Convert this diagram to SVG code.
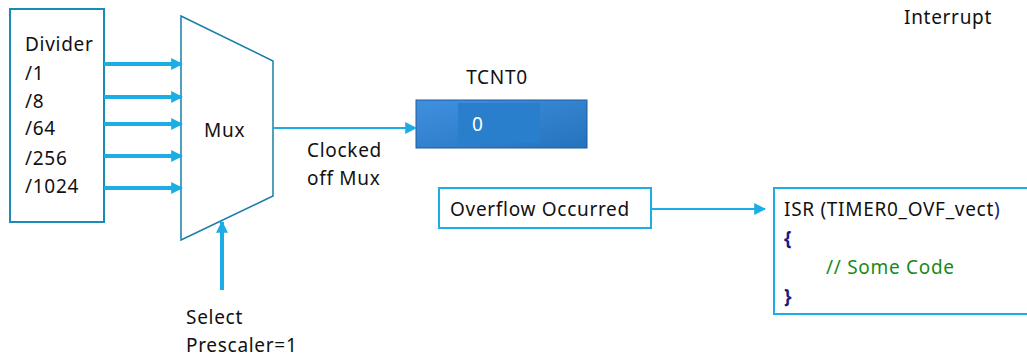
<svg xmlns="http://www.w3.org/2000/svg" width="1027" height="356" viewBox="0 0 1027 356">
  <style>
    .t { font-family: "Noto Sans", "Liberation Sans", sans-serif; font-size: 19px; letter-spacing: 0.7px; fill: #111; }
    .box { fill: #fff; stroke: #1CADE4; stroke-width: 2; }
    .thin { stroke: #1CADE4; stroke-width: 2; fill: none; }
    .thick { stroke: #1CADE4; stroke-width: 4; fill: none; }
  </style>
  <defs>
    <marker id="ah" viewBox="0 0 10 10" refX="9" refY="5" markerWidth="3" markerHeight="3" orient="auto" markerUnits="strokeWidth">
      <path d="M0,0 L10,5 L0,10 z" fill="#1CADE4"/>
    </marker>
    <marker id="ahs" viewBox="0 0 10 10" refX="9" refY="5" markerWidth="6" markerHeight="6" orient="auto" markerUnits="strokeWidth">
      <path d="M0,0 L10,5 L0,10 z" fill="#1CADE4"/>
    </marker>
    <linearGradient id="reg" x1="0" y1="0" x2="1" y2="1">
      <stop offset="0" stop-color="#3F90E0"/>
      <stop offset="1" stop-color="#2673BC"/>
    </linearGradient>
  </defs>

  <rect width="1027" height="356" fill="#fff"/>

  <g id="divider">
    <rect x="10" y="9" width="94" height="213" fill="#fff" stroke="#1A8AB8" stroke-width="2"/>
    <text class="t" x="25" y="51">Divider</text>
    <text class="t" x="25" y="80">/1</text>
    <text class="t" x="25" y="108">/8</text>
    <text class="t" x="25" y="135">/64</text>
    <text class="t" x="25" y="165">/256</text>
    <text class="t" x="25" y="193">/1024</text>
  </g>

  <g id="mux">
    <polygon points="181,16 273,61 273,196 181,240" fill="#fff" stroke="#1A7FA8" stroke-width="1.5"/>
    <text class="t" x="204" y="137">Mux</text>
  </g>

  <g id="tcnt0">
    <text class="t" x="497" y="84" text-anchor="middle">TCNT0</text>
    <rect x="416" y="100" width="171" height="48" fill="url(#reg)" stroke="#1E5C9A" stroke-width="1"/>
    <rect x="458" y="103" width="82" height="40" fill="#2A7FCC"/>
    <text x="472" y="131" font-family="Noto Sans, Liberation Sans, sans-serif" font-size="19" fill="#fff">0</text>
  </g>

  <g id="overflow">
    <rect class="box" x="439" y="188" width="212" height="40"/>
    <text class="t" x="450" y="216">Overflow Occurred</text>
  </g>

  <g id="isr">
    <rect class="box" x="774" y="188" width="260" height="126"/>
    <text class="t" x="784" y="216">ISR (TIMER0_OVF_vect<tspan fill="#1A1A80">)</tspan></text>
    <text class="t" x="784" y="245" font-weight="bold" style="fill:#1A1A80">{</text>
    <text class="t" x="826" y="274" style="fill:#1A8A1A">// Some Code</text>
    <text class="t" x="784" y="303" font-weight="bold" style="fill:#1A1A80">}</text>
  </g>

  <g id="labels">
    <text class="t" x="307" y="157">Clocked</text>
    <text class="t" x="307" y="185">off Mux</text>
    <text class="t" x="186" y="324">Select</text>
    <text class="t" x="186" y="352">Prescaler=1</text>
    <text class="t" x="904" y="24">Interrupt</text>
  </g>

  <g id="connectors">
    <line class="thick" x1="104" y1="64" x2="182" y2="64" marker-end="url(#ah)"/>
    <line class="thick" x1="104" y1="97" x2="182" y2="97" marker-end="url(#ah)"/>
    <line class="thick" x1="104" y1="124" x2="182" y2="124" marker-end="url(#ah)"/>
    <line class="thick" x1="104" y1="156" x2="182" y2="156" marker-end="url(#ah)"/>
    <line class="thick" x1="104" y1="188" x2="182" y2="188" marker-end="url(#ah)"/>
    <line class="thick" x1="222" y1="290" x2="222" y2="222" marker-end="url(#ah)"/>
    <line class="thin" x1="273" y1="128" x2="416" y2="128" marker-end="url(#ahs)"/>
    <line class="thin" x1="651" y1="209" x2="765" y2="209" marker-end="url(#ahs)"/>
  </g>
</svg>
